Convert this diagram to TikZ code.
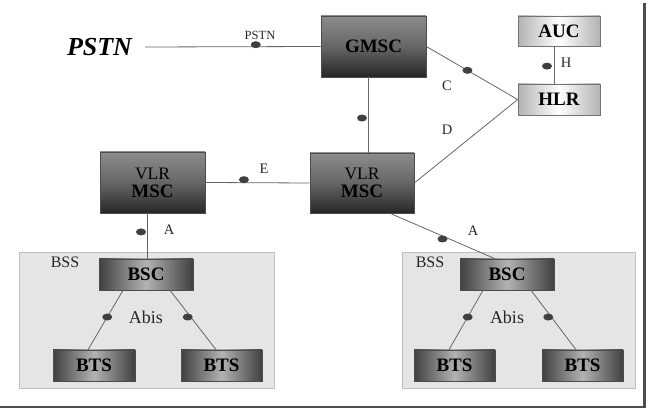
\documentclass[tikz,border=0pt]{standalone}
\usepackage{fontspec}
\setmainfont{Liberation Serif}
\usetikzlibrary{shapes.geometric}
\begin{document}
\begin{tikzpicture}[x=1pt,y=-1pt,
  darkbox/.style={draw=black!70, line width=0.6pt, inner sep=0pt, top color=black!45, bottom color=black!85, middle color=black!60, font=\fontsize{19}{18}\selectfont\bfseries, text=black},
  barbox/.style={draw=black!70, line width=0.6pt, inner sep=0pt, minimum height=31pt, left color=black!75, right color=black!75, middle color=black!30, font=\fontsize{19}{18}\selectfont\bfseries, text=black},
  litebox/.style={draw=black!55, line width=0.6pt, inner sep=0pt, minimum width=82pt, minimum height=30pt, left color=black!30, right color=black!30, middle color=white, font=\fontsize{19}{18}\selectfont\bfseries, text=black},
  bssbox/.style={draw=black!25, line width=0.6pt, fill=black!10, inner sep=0pt},
  link/.style={draw=black!60, line width=0.8pt},
  dot/.style={ellipse, fill=black!75, inner sep=0pt, minimum width=10pt, minimum height=7pt},
  lbl/.style={font=\fontsize{14.5}{15}\selectfont, text=black!85, inner sep=0pt},
  frame/.style={draw=black!70, line width=2.5pt}
]
\useasboundingbox (0,0) rectangle (648,411);
% BSS areas
\node[bssbox, minimum width=255pt, minimum height=136pt] (bss1) at (146.5,320) {};
\node[bssbox, minimum width=233pt, minimum height=136pt] (bss2) at (518.5,320) {};
\node[lbl, font=\fontsize{16}{16}\selectfont] (bsslbl1) at (65,262) {BSS};
\node[lbl, font=\fontsize{16}{16}\selectfont] (bsslbl2) at (430,262) {BSS};
% main nodes
\node[font=\fontsize{26}{26}\selectfont\bfseries\itshape, inner sep=0pt] (pstn) at (99.5,47) {PSTN};
\node[darkbox, minimum width=105pt, minimum height=61pt] (gmsc) at (373.5,46.5) {GMSC};
\node[litebox] (auc) at (559,31) {AUC};
\node[litebox, minimum height=31pt] (hlr) at (559,99.5) {HLR};
\node[darkbox, minimum width=105pt, minimum height=61pt, align=center] (msc1) at (152.5,182.5) {{\mdseries\fontsize{17.5}{18}\selectfont VLR}\\MSC};
\node[darkbox, minimum width=104pt, minimum height=60pt, align=center] (msc2) at (362,183) {{\mdseries\fontsize{17.5}{18}\selectfont VLR}\\MSC};
\node[barbox, minimum width=94pt] (bsc1) at (146,274.5) {BSC};
\node[barbox, minimum width=94pt] (bsc2) at (507,274.5) {BSC};
\node[barbox, minimum width=82pt] (bts1) at (94,365.5) {BTS};
\node[barbox, minimum width=81pt] (bts2) at (221.5,365.5) {BTS};
\node[barbox, minimum width=81pt] (bts3) at (454.5,365.5) {BTS};
\node[barbox, minimum width=81pt] (bts4) at (582.5,365.5) {BTS};
% connectors
\draw[link] ([xshift=13pt]pstn.east) -- node[dot, pos=0.63, yshift=2pt] (d1) {} (gmsc.west);
\draw[link] (gmsc.east) -- node[dot, pos=0.45] (d2) {} (hlr.west);
\draw[link] (msc2.east) -- (hlr.west);
\draw[link] ([xshift=-5pt]auc.south) -- node[dot, pos=0.53, xshift=-7pt] (d3) {} ([xshift=-5pt]hlr.north);
\draw[link] ([xshift=-5.5pt]gmsc.south) -- node[dot, pos=0.54, xshift=-6pt] (d4) {} ([xshift=-5.5pt]gmsc.south |- msc2.north);
\draw[link] (msc1.east) -- node[dot, pos=0.37, yshift=3pt] (d5) {} (msc2.west);
\draw[link] ([xshift=-5.5pt]msc1.south) -- node[dot, pos=0.41, xshift=-6pt] (d6) {} ([xshift=-5.5pt]msc1.south |- bsc1.north);
\draw[link] ([xshift=28pt]msc2.south) -- node[dot, pos=0.5, yshift=-3pt] (d7) {} ([xshift=-12pt]bsc2.north);
\draw[link] ([xshift=-23pt]bsc1.south) -- node[dot, pos=0.45] (d8) {} ([xshift=-6pt]bts1.north);
\draw[link] ([xshift=24pt]bsc1.south) -- node[dot, pos=0.45, xshift=-3pt] (d9) {} ([xshift=-5.5pt]bts2.north);
\draw[link] ([xshift=-24pt]bsc2.south) -- node[dot, pos=0.45] (d10) {} ([xshift=-5.5pt]bts3.north);
\draw[link] ([xshift=24pt]bsc2.south) -- node[dot, pos=0.45, xshift=-3pt] (d11) {} ([xshift=-6.5pt]bts4.north);
% labels
\node[lbl, font=\fontsize{12.5}{13}\selectfont] (lpstn) at (260,35) {PSTN};
\node[lbl] (lc) at (447,86) {C};
\node[lbl] (ld) at (447,130) {D};
\node[lbl] (lh) at (566,63) {H};
\node[lbl] (le) at (264,169) {E};
\node[lbl] (la1) at (169,230) {A};
\node[lbl] (la2) at (473,231) {A};
\node[lbl, font=\fontsize{18}{18}\selectfont] (lab1) at (146,317) {Abis};
\node[lbl, font=\fontsize{18}{18}\selectfont] (lab2) at (507,317) {Abis};
% frame
\coordinate (f1) at (644.5,3);
\coordinate (f2) at (644.5,407);
\coordinate (f3) at (0,407);
\draw[frame] (f1) -- (f2) -- (f3);
\end{tikzpicture}
\end{document}
